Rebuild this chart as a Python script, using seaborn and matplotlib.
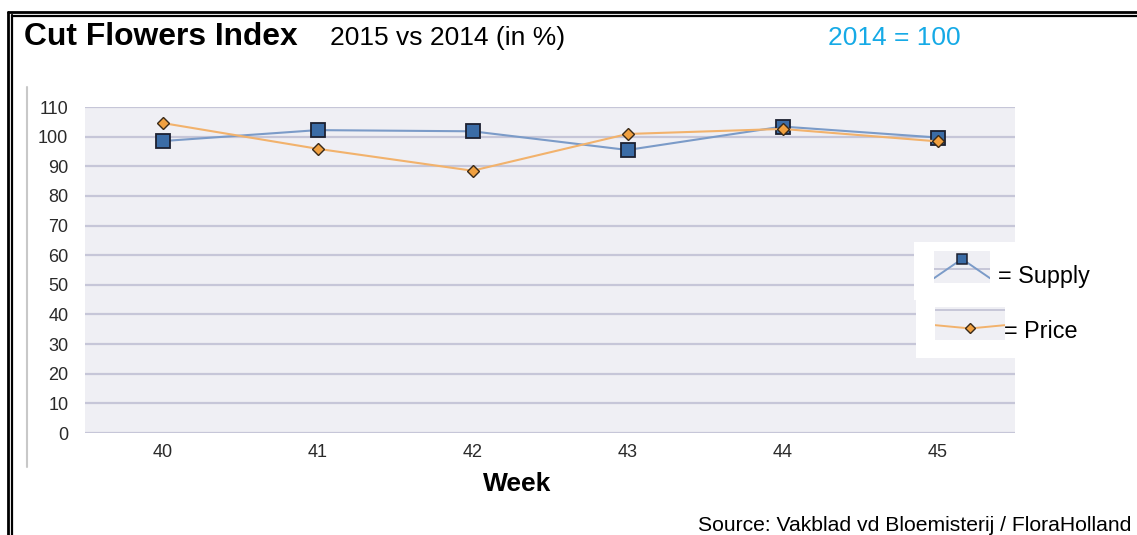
import numpy as np
import pandas as pd
import seaborn as sns
import matplotlib.pyplot as plt
from matplotlib.lines import Line2D
from matplotlib.patches import Rectangle

weeks = [40, 41, 42, 43, 44, 45]
supply = [98.5, 102.2, 101.8, 95.5, 103.4, 99.7]
price = [104.6, 95.9, 88.5, 100.9, 102.6, 98.4]
y_ticks = [0, 10, 20, 30, 40, 50, 60, 70, 80, 90, 100, 110]

df = pd.DataFrame({"Week": weeks, "Supply": supply, "Price": price})

sns.set_theme(style="white")
plt.rcParams['font.family'] = ['Liberation Sans', 'DejaVu Sans']

W, H = 1137, 535
fig = plt.figure(figsize=(W / 100, H / 100), dpi=100)
fig.patch.set_facecolor('white')

def fx(px):
    return px / W

def fy(py):
    return 1 - py / H

ax = fig.add_axes([fx(85), fy(433), fx(1015) - fx(85), fy(107) - fy(433)])
ax.set_facecolor('#EFEFF4')

supply_col = '#7B9BC8'
price_col = '#F2B26C'

sns.lineplot(data=df, x="Week", y="Supply", ax=ax, color=supply_col, linewidth=1.5,
             marker='s', markersize=9.5, markerfacecolor='#3B6CA6',
             markeredgecolor='#1C2030', markeredgewidth=1.3, zorder=3)
sns.lineplot(data=df, x="Week", y="Price", ax=ax, color=price_col, linewidth=1.5,
             marker='D', markersize=6, markerfacecolor='#F0A040',
             markeredgecolor='#3A2A18', markeredgewidth=1.0, zorder=4)

ax.set_xlim(39.5, 45.5)
ax.set_ylim(0, 110)
ax.set_yticks(y_ticks)
ax.set_xticks(weeks)
ax.yaxis.grid(True, color='#C6C6D8', linewidth=1.6)
ax.set_axisbelow(True)
for s in ax.spines.values():
    s.set_visible(False)
ax.tick_params(axis='both', length=0, labelsize=13, colors='#2a2a2a')
ax.tick_params(axis='y', pad=12)
ax.tick_params(axis='x', pad=8)
ax.set_xlabel('')
ax.set_ylabel('')

# title texts
fig.text(fx(24), fy(45), 'Cut Flowers Index', fontsize=22.9, fontweight='bold',
         color='black', ha='left', va='baseline')
fig.text(fx(330), fy(45), '2015 vs 2014 (in %)', fontsize=19, color='black',
         ha='left', va='baseline')
fig.text(fx(828), fy(45), '2014 = 100', fontsize=19, color='#16AAE6',
         ha='left', va='baseline')
fig.text(fx(517), fy(491), 'Week', fontsize=19, fontweight='bold', color='black',
         ha='center', va='baseline')
fig.text(fx(1131), fy(531), 'Source: Vakblad vd Bloemisterij / FloraHolland',
         fontsize=15.2, color='black', ha='right', va='baseline')

# frame lines
fig.add_artist(Line2D([fx(8), fx(8)], [0, fy(12)], color='black', lw=2.0))
fig.add_artist(Line2D([fx(11.5), fx(11.5)], [0, fy(15)], color='black', lw=1.6))
fig.add_artist(Line2D([fx(8), 1], [fy(12), fy(12)], color='black', lw=2.0))
fig.add_artist(Line2D([fx(11.5), 1], [fy(15.5), fy(15.5)], color='black', lw=1.6))
fig.add_artist(Line2D([fx(27), fx(27)], [fy(467), fy(87)], color='#C8C8C8', lw=1.5))

# legend boxes
fig.add_artist(Rectangle((fx(914), fy(300)), fx(1015) - fx(914), fy(242) - fy(300),
                         transform=fig.transFigure, facecolor='white', edgecolor='none', zorder=5))
fig.add_artist(Rectangle((fx(916), fy(358)), fx(1015) - fx(916), fy(300) - fy(358),
                         transform=fig.transFigure, facecolor='white', edgecolor='none', zorder=5))

icon_x = [0, 1, 2]
icon_supply = [0.15, 0.75, 0.15]
icon_price = [0.45, 0.35, 0.45]

ic1 = fig.add_axes([fx(934), fy(283), fx(990) - fx(934), fy(251) - fy(283)], zorder=6)
ic1.set_facecolor('#EFEFF4')
ic1.axhline(0.45, color='#C6C6D8', lw=1.4)
ic1.plot(icon_x, icon_supply, color=supply_col, lw=1.4)
ic1.plot(icon_x[1], icon_supply[1], marker='s', markersize=7.5, markerfacecolor='#3B6CA6',
         markeredgecolor='#1C2030', markeredgewidth=1.1)
ic1.set_xlim(0, 2)
ic1.set_ylim(0, 1)

ic2 = fig.add_axes([fx(935), fy(340), fx(1005) - fx(935), fy(307) - fy(340)], zorder=6)
ic2.set_facecolor('#EFEFF4')
ic2.axhline(0.9, color='#C6C6D8', lw=1.4)
ic2.plot(icon_x, icon_price, color=price_col, lw=1.4)
ic2.plot(icon_x[1], icon_price[1], marker='D', markersize=5.5, markerfacecolor='#F0A040',
         markeredgecolor='#3A2A18', markeredgewidth=1.0)
ic2.set_xlim(0, 2)
ic2.set_ylim(0, 1)

for ic in (ic1, ic2):
    ic.set_xticks([])
    ic.set_yticks([])
    for s in ic.spines.values():
        s.set_visible(False)

fig.text(fx(998), fy(277), '= Supply', fontsize=16.8, color='black', ha='left',
         va='center', zorder=7)
fig.text(fx(1004), fy(332), '= Price', fontsize=16.8, color='black', ha='left',
         va='center', zorder=7)

fig.savefig('out.png', dpi=100, facecolor='white')
